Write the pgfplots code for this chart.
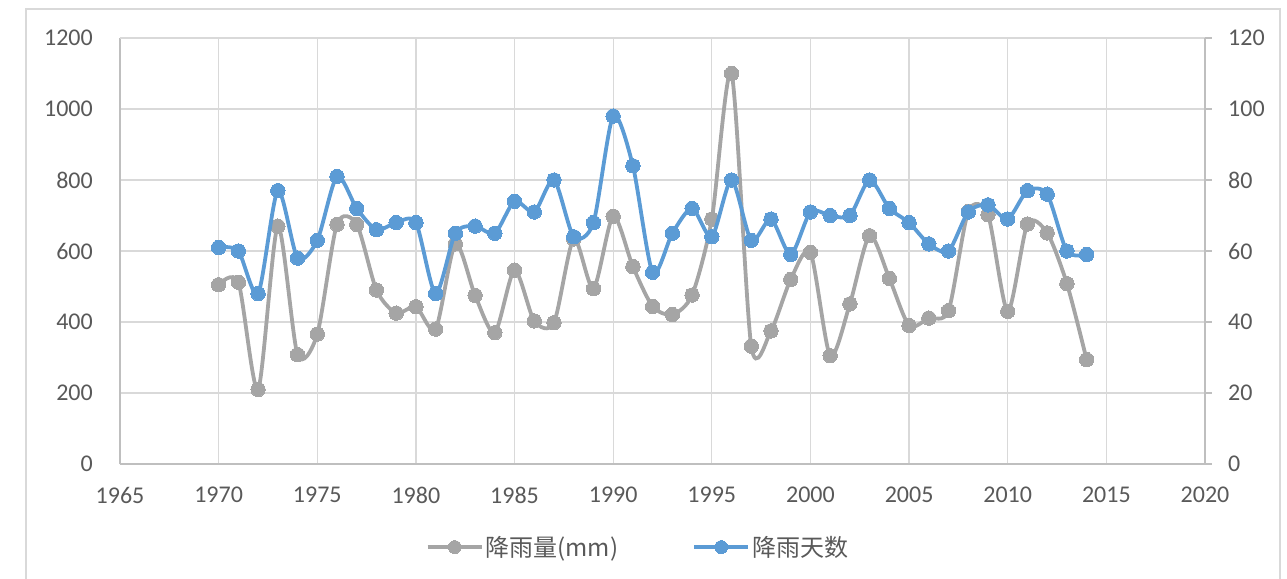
\documentclass[border=0pt]{standalone}
\usepackage{pgfplots}
\pgfplotsset{compat=1.18}
\usepackage{fontspec}
\setmainfont{Carlito}
\newfontfamily\cjk{Noto Sans CJK SC}
\definecolor{sgray}{HTML}{A5A5A5}
\definecolor{sblue}{HTML}{5B9BD5}
\definecolor{gridc}{HTML}{D9D9D9}
\definecolor{axc}{HTML}{BFBFBF}
\definecolor{txt}{HTML}{595959}
\pgfplotsset{
  base/.style={
    scale only axis, width=1085pt, height=426pt,
    xmin=1965, xmax=2020, xtick={1965,1970,...,2020},
    /pgf/number format/assume math mode=true,
    /pgf/number format/1000 sep={},
    tick label style={font=\fontsize{24}{28}\selectfont, text=txt},
    axis line style={draw=axc, line width=1.2pt},
    every tick/.style={draw=axc, line width=1.2pt},
  },
  gs/.style={color=sgray, line width=3.8pt, mark=*, mark size=7.2pt, mark options={fill=sgray, draw=sgray, line width=0pt}, smooth, tension=0.45},
  bs/.style={color=sblue, line width=3.8pt, mark=*, mark size=7.2pt, mark options={fill=sblue, draw=sblue, line width=0pt}, smooth, tension=0.45},
}
\begin{document}
\begin{tikzpicture}
\begin{axis}[base,
  ymin=0, ymax=1200, ytick={0,200,...,1200},
  axis x line*=bottom, axis y line*=left,
  xmajorgrids, ymajorgrids, grid style={draw=gridc, line width=1.2pt},
  major tick length=0pt,
  yticklabel style={inner sep=0pt}, ytick align=outside,
  xticklabel style={inner sep=0pt},
  tick label style={font=\fontsize{24}{28}\selectfont, text=txt},
  every y tick label/.append style={xshift=-27pt},
  every x tick label/.append style={yshift=-23pt},
  clip=false,
]
\addplot[gs] coordinates {
(1970,505) (1971,512) (1972,210) (1973,670) (1974,308) (1975,366) (1976,675) (1977,675) (1978,490) (1979,425)
(1980,443) (1981,380) (1982,620) (1983,475) (1984,370) (1985,546) (1986,403) (1987,398) (1988,634) (1989,494)
(1990,698) (1991,556) (1992,444) (1993,421) (1994,476) (1995,690) (1996,1100) (1997,332) (1998,375) (1999,520)
(2000,596) (2001,305) (2002,451) (2003,643) (2004,523) (2005,390) (2006,411) (2007,432) (2008,711) (2009,702)
(2010,430) (2011,676) (2012,651) (2013,508) (2014,294)};
\draw[draw=gridc, line width=1.2pt] (rel axis cs:0,1) -- (rel axis cs:1,1);
\end{axis}
\begin{axis}[base,
  ymin=0, ymax=120, ytick={0,20,...,120},
  axis x line=none, axis y line*=right,
  ytick align=outside, major tick length=7pt,
  yticklabel style={inner sep=0pt, anchor=west}, 
  every y tick label/.append style={xshift=16pt},
  xtick=\empty,
  clip=false,
  legend style={at={(0.4774,-0.195)}, anchor=center, draw=none, fill=none,
    legend columns=2, font=\cjk\fontsize{24}{28}\selectfont, text=txt,
    /tikz/every even column/.append style={column sep=72pt},
    inner sep=0pt, cells={anchor=west}},
  legend image code/.code={\draw[mark repeat=2, mark phase=2, #1, mark size=6.5pt] plot coordinates {(0pt,0pt) (27pt,0pt) (54pt,0pt)};},
]
\addlegendimage{gs}
\addlegendentry{降雨量(mm)}
\addplot[bs] coordinates {
(1970,61) (1971,60) (1972,48) (1973,77) (1974,58) (1975,63) (1976,81) (1977,72) (1978,66) (1979,68)
(1980,68) (1981,48) (1982,65) (1983,67) (1984,65) (1985,74) (1986,71) (1987,80) (1988,64) (1989,68)
(1990,98) (1991,84) (1992,54) (1993,65) (1994,72) (1995,64) (1996,80) (1997,63) (1998,69) (1999,59)
(2000,71) (2001,70) (2002,70) (2003,80) (2004,72) (2005,68) (2006,62) (2007,60) (2008,71) (2009,73)
(2010,69) (2011,77) (2012,76) (2013,60) (2014,59)};
\addlegendentry{降雨天数}
\end{axis}
\draw[draw=gridc, line width=2pt] (-94pt,-130pt) -- (-94pt,455pt) -- (1160pt,455pt) -- (1160pt,-130pt);
\pgfresetboundingbox
\path[use as bounding box] (-120pt,-114pt) rectangle (1167pt,464pt);
\end{tikzpicture}
\end{document}
